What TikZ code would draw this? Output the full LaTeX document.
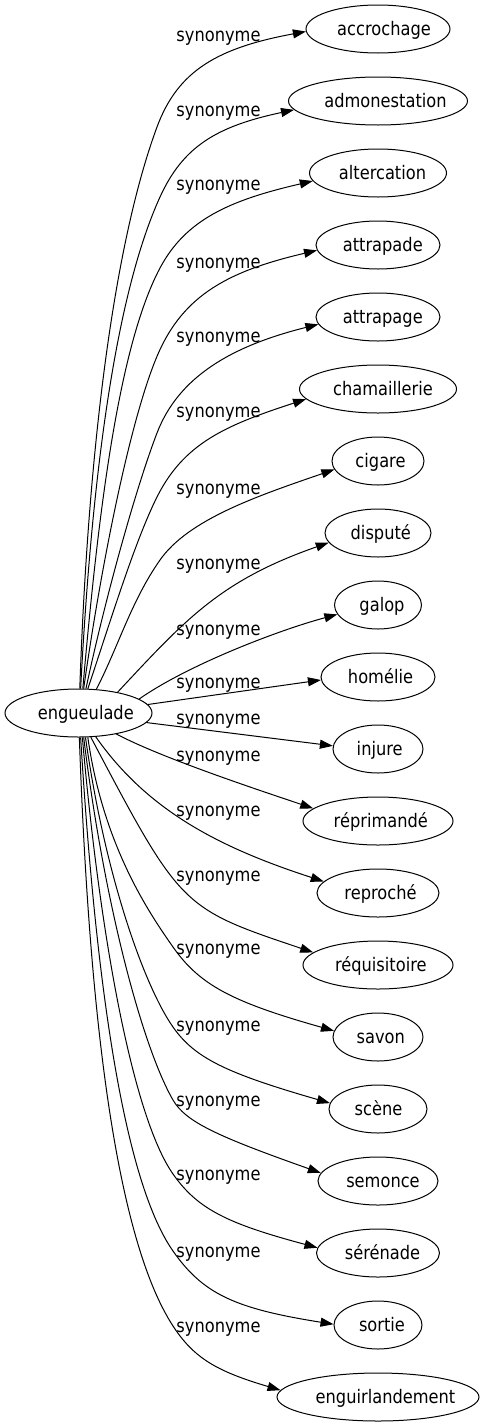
\documentclass[tikz,border=0pt]{standalone}
\usepackage{fontspec}
\setmainfont{DejaVu Sans}[FakeStretch=0.87]
\usetikzlibrary{arrows.meta,shapes.geometric}
\newcommand\sh[2]{\makebox[0pt]{\hspace*{#1pt}#2}}
\begin{document}
\begin{tikzpicture}[x=1pt,y=1pt,
  every node/.style={font=\fontsize{18.67}{22}\selectfont},
  tgt/.style={draw, ellipse, line width=1pt, minimum height=48pt, inner sep=0pt, text height=14pt, text depth=2pt},
  lab/.style={anchor=base, inner sep=0pt},
  edge/.style={-{Triangle[length=13pt,width=9pt]}, line width=1pt}]
\useasboundingbox (0,0) rectangle (485,-1427);
% source
\node[tgt, minimum width=147pt] (eng) at (78.5,-713) {\sh{14.6}{engueulade}};
% targets
\node[tgt, minimum width=144pt] (acc) at (378,-29)   {\sh{12}{accrochage}};
\node[tgt, minimum width=179pt] (adm) at (378,-101)  {\sh{15}{admonestation}};
\node[tgt, minimum width=137pt] (alt) at (378,-173)  {\sh{9}{altercation}};
\node[tgt, minimum width=124pt] (atd) at (378,-245)  {\sh{9.6}{attrapade}};
\node[tgt, minimum width=124pt] (atg) at (378,-317)  {\sh{9.6}{attrapage}};
\node[tgt, minimum width=157pt] (cha) at (378,-389)  {\sh{10}{chamaillerie}};
\node[tgt, minimum width=92pt]  (cig) at (378,-461)  {\sh{5}{cigare}};
\node[tgt, minimum width=106pt] (dis) at (378,-533)  {\sh{5.6}{disputé}};
\node[tgt, minimum width=87pt]  (gal) at (378,-605)  {\sh{8}{galop}};
\node[tgt, minimum width=114pt] (hom) at (378,-677)  {\sh{5}{homélie}};
\node[tgt, minimum width=90pt]  (inj) at (378,-749)  {\sh{3.4}{injure}};
\node[tgt, minimum width=150pt] (rpd) at (378,-821)  {\sh{5.6}{réprimandé}};
\node[tgt, minimum width=122pt] (rpc) at (378,-893)  {\sh{5}{reproché}};
\node[tgt, minimum width=150pt] (rqs) at (378,-965)  {\sh{5.6}{réquisitoire}};
\node[tgt, minimum width=90pt]  (sav) at (378,-1037) {\sh{5.6}{savon}};
\node[tgt, minimum width=98pt]  (sce) at (378,-1109) {\sh{1}{scène}};
\node[tgt, minimum width=120pt] (sem) at (378,-1181) {\sh{10}{semonce}};
\node[tgt, minimum width=123pt] (ser) at (378,-1253) {\sh{9}{sérénade}};
\node[tgt, minimum width=88pt]  (sor) at (378,-1325) {\sh{8}{sortie}};
\node[tgt, minimum width=202pt] (eng2) at (378,-1397) {\sh{15}{enguirlandement}};
% labels
\foreach \n/\y in {1/35,2/110,3/184,4/262,5/336,6/411,7/488,8/563,9/629,10/682,
                   11/718,12/755,13/810,14/875,15/948,16/1025,17/1100,18/1174,19/1251,20/1326}
  \node[lab] (l\n) at (218.5,-\y-6) {synonyme};
% edges
\draw[edge] (eng.87.6) .. controls +(88:250) and +(249.7:120) .. (157,-127) .. controls +(69.7:60) and +(190.5:90) .. (acc.182.4);
\draw[edge] (eng.85) .. controls +(87:220) and +(245.5:105) .. (160,-197) .. controls +(65.5:55) and +(192:80) .. (adm.186.9);
\draw[edge] (eng.80.5) .. controls +(85:170) and +(242:90) .. (160,-268) .. controls +(62:55) and +(193:85) .. (alt.187.3);
\draw[edge] (eng.78) .. controls +(82:120) and +(246.5:70) .. (158,-354) .. controls +(66.5:65) and +(193.2:90) .. (atd.185.8);
\draw[edge] (eng.73.7) .. controls +(78:90) and +(249:60) .. (157,-433) .. controls +(69:60) and +(194:90) .. (atg.187.9);
\draw[edge] (eng.69) .. controls +(71.4:70) and +(243.4:50) .. (157,-497) .. controls +(63.4:60) and +(198:85) .. (cha.188.2);
\draw[edge] (eng.53) .. controls +(63:50) and +(235:50) .. (160,-560) .. controls +(55:50) and +(199:80) .. (cig.191.1);
\draw[edge] (eng.28) .. controls +(47:100) and +(199.3:115) .. (dis.191.4);
\draw[edge] (eng.13) .. controls +(35:60) and +(195:60) .. (gal.193);
\draw[edge] (eng.7) -- (hom.183);
\draw[edge] (eng.352) -- (inj.176.2);
\draw[edge] (eng.331) .. controls +(-28:50) and +(161.4:60) .. (rpd.169.2);
\draw[edge] (eng.306) .. controls +(-55:90) and +(162:110) .. (rpc.168);
\draw[edge] (eng.297) .. controls (181,-908) and (181,-908) .. (rqs.169.9);
\draw[edge] (eng.291) .. controls +(-82:110) and +(125:40) .. (173,-947) .. controls +(-55:46.7) and +(164.2:105.4) .. (sav.172);
\draw[edge] (eng.286.3) .. controls +(-82:140) and +(125:50) .. (173,-1027) .. controls +(-55:38) and +(163.9:108) .. (sce.173.2);
\draw[edge] (eng.282) .. controls +(-83:170) and +(120:60) .. (173,-1100) .. controls +(-60:25.3) and +(160.5:110) .. (sem.172.6);
\draw[edge] (eng.279.5) .. controls +(-85:200) and +(125:70) .. (173,-1174) .. controls +(-55:43.3) and +(165:92.7) .. (ser.175.7);
\draw[edge] (eng.275) .. controls +(-86.5:230) and +(125:90) .. (173,-1251) .. controls +(-55:52.3) and +(171:100.2) .. (sor.179);
\draw[edge] (eng.272.4) .. controls +(-88:260) and +(123:110) .. (173,-1326) .. controls +(-57:38.7) and +(163.5:65.8) .. (eng2.176);
\end{tikzpicture}
\end{document}
